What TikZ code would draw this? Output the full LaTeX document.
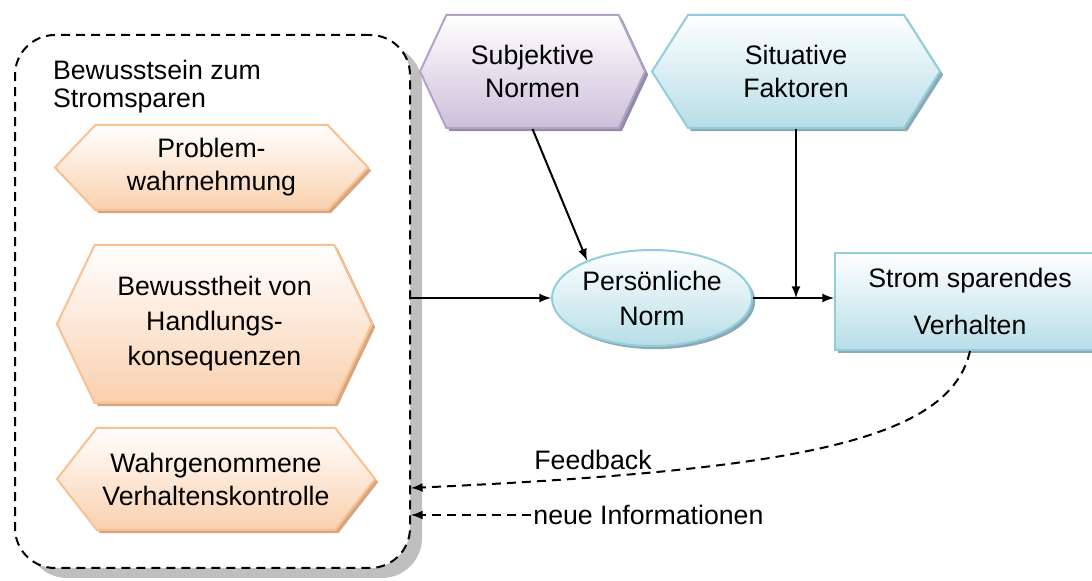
\documentclass[tikz,border=0pt]{standalone}
\usepackage{fontspec}
\setmainfont{Liberation Sans}
\usetikzlibrary{arrows,shapes.symbols,shapes.geometric,shadows,positioning}

\definecolor{orangeline}{RGB}{249,192,144}
\definecolor{orangefill}{RGB}{250,208,174}
\definecolor{orangeshade}{RGB}{214,166,128}
\definecolor{purpleline}{RGB}{179,162,199}
\definecolor{purplefill}{RGB}{204,192,218}
\definecolor{purpleshade}{RGB}{150,138,168}
\definecolor{blueline}{RGB}{146,205,220}
\definecolor{bluefill}{RGB}{183,222,232}
\definecolor{blueshade}{RGB}{140,170,182}
\definecolor{frameshade}{RGB}{191,191,191}

\tikzset{
    txt/.style={font=\fontsize{13.35}{16.5}\selectfont, align=center},
    shaded/.style n args={3}{draw=#1, line width=1pt, top color=white, bottom color=#2,
        drop shadow={shadow xshift=1.6pt, shadow yshift=-1.6pt, fill=#3, opacity=1}},
    hexa/.style n args={3}{txt, shape=signal, signal to=west and east, inner sep=0pt,
        shaded={#1}{#2}{#3}},
    conn/.style={line width=1pt, -latex},
    fb/.style={line width=1pt, dash pattern=on 4.5pt off 3pt, -latex}
}

\begin{document}
\begin{tikzpicture}[x=0.5pt, y=-0.5pt]
    % Fix the picture size.
    \useasboundingbox (0,0) rectangle (1092,581);
    \clip (0,0) rectangle (1092,581);

    % Draw awareness frame.
    \node[draw, fill=white, line width=1pt, dash pattern=on 4.5pt off 3pt, rounded corners=20pt,
        minimum width=197.5pt, minimum height=266.5pt,
        drop shadow={shadow xshift=6pt, shadow yshift=-5pt, fill=frameshade, opacity=1}]
        (frame) at (212.5,301.5) {};
    \node[txt, align=left, anchor=west] (title) at (46,87) {Bewusstsein zum\\[-2.5pt]Stromsparen};

    % Draw orange hexagons.
    \foreach \nm/\cx/\cy/\w/\h/\ang/\lbl in {
        prob/211.5/167.5/156.5/42.5/93/{Problem-\\wahrnehmung},
        bew/214.5/324/157.5/79/129/{Bewusstheit von\\[1pt]Handlungs-\\[1pt]konsequenzen},
        kon/216/479/159/51/104/{Wahrgenommene\\Verhaltenskontrolle}}
        \node[hexa={orangeline}{orangefill}{orangeshade}, minimum width=\w pt,
            minimum height=\h pt, signal pointer angle=\ang] (\nm) at (\cx,\cy) {\lbl};

    % Draw upper hexagons.
    \node[hexa={purpleline}{purplefill}{purpleshade}, minimum width=112.5pt,
        minimum height=56.5pt, signal pointer angle=130] (subj) at (532.5,71.5) {Subjektive\\Normen};
    \node[hexa={blueline}{bluefill}{blueshade}, minimum width=144pt,
        minimum height=56.5pt, signal pointer angle=115] (sit) at (796,71.5) {Situative\\Faktoren};

    % Draw norm and behaviour.
    \node[txt, ellipse, inner sep=0pt, shaded={blueline}{bluefill}{blueshade},
        minimum width=100pt, minimum height=48pt] (norm) at (652,298) {Persönliche\\[1pt]Norm};
    \node[txt, rectangle, inner sep=0pt, shaded={blueline}{bluefill}{blueshade},
        minimum width=135pt, minimum height=48.5pt] (strom) at (970,301.5) {Strom sparendes\\[7pt]Verhalten};

    % Draw connectors.
    \draw[conn] (frame.east |- norm.west) -- (norm.west);
    \draw[conn] (norm.east) -- (strom.west |- norm.east);
    \draw[conn] (subj.south) -- (norm.150);
    \draw[conn] (sit.south) -- (sit.south |- norm.east);

    % Draw feedback loop.
    \coordinate (fbin) at (411,488);
    \coordinate (infoin) at (411,515);
    \node[txt] (fblabel) at (593,460) {Feedback};
    \node[txt, anchor=west, inner sep=1pt] (info) at (531,515) {neue Informationen};
    \draw[fb] (strom.south) .. controls (950,440) and (800,470) .. (fbin);
    \draw[fb] (info.west) -- (infoin);
\end{tikzpicture}
\end{document}
